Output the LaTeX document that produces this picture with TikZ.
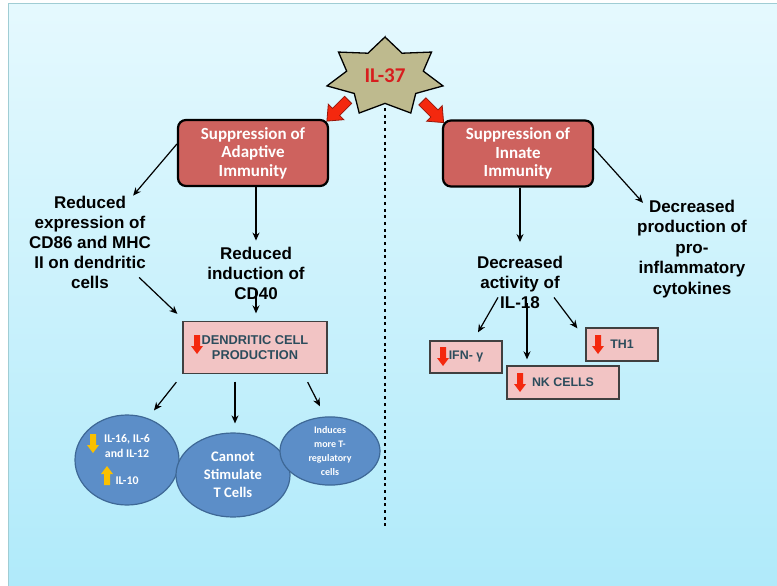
\documentclass[tikz,border=0pt]{standalone}
\usepackage{fontspec}
\setmainfont{Liberation Sans}
\newfontfamily\calibri{Carlito}
\usetikzlibrary{shapes.geometric,arrows.meta}

\definecolor{bgtop}{RGB}{229,249,254}
\definecolor{bgbottom}{RGB}{176,234,250}
\definecolor{bgframe}{RGB}{160,205,212}
\definecolor{starfill}{RGB}{190,186,142}
\definecolor{ilred}{RGB}{215,30,30}
\definecolor{boxred}{RGB}{206,98,94}
\definecolor{boxpink}{RGB}{242,196,196}
\definecolor{slate}{RGB}{44,76,92}
\definecolor{ellblue}{RGB}{92,142,200}
\definecolor{ellline}{RGB}{62,104,150}
\definecolor{arrred}{RGB}{244,40,14}
\definecolor{arrdark}{RGB}{150,22,10}
\definecolor{arryellow}{RGB}{250,192,0}

% small block arrow: colour, x, y of tail, 1 = down / -1 = up
\newcommand{\blockarr}[4]{%
  \fill[#1] ({#2-3},{#3}) -- ({#2+3},{#3}) -- ({#2+3},{#3+11*(#4)}) -- ({#2+6},{#3+11*(#4)})
    -- ({#2},{#3+19*(#4)}) -- ({#2-6},{#3+11*(#4)}) -- ({#2-3},{#3+11*(#4)}) -- cycle;}

\tikzset{
  conn/.style={line width=1.2pt, -{Stealth[length=8pt,width=7pt]}},
  txt/.style={align=center, inner sep=0pt, font=\bfseries\fontsize{17}{20}\selectfont},
  suppbox/.style={draw=black, line width=2.2pt, fill=boxred, rounded corners=8pt,
    minimum width=150pt, minimum height=66pt, inner sep=0pt, align=center, text=white,
    font=\calibri\bfseries\fontsize{17}{18.5}\selectfont},
  pinkbox/.style={draw=black!75, line width=1.3pt, fill=boxpink, inner sep=0pt,
    align=center, text=slate, font=\bfseries\fontsize{12.4}{14.5}\selectfont},
  cell/.style={ellipse, draw=ellline, line width=1.2pt, fill=ellblue, inner sep=0pt,
    align=center, text=white},
  bigarrow/.style={draw=arrdark, line width=0.8pt, fill=arrred, line join=miter},
  divider/.style={line width=2.8pt, dash pattern=on 3pt off 3.7pt}
}

\begin{document}
\begin{tikzpicture}[x=1pt,y=-1pt]
\useasboundingbox (0,0) rectangle (777,586);
\shade[top color=bgtop, bottom color=bgbottom] (8,4) rectangle (777,586);
\draw[bgframe, line width=1pt] (8,586) -- (8,4) -- (777,4);

\draw[divider] (385,108) -- (385,530);

% star
\draw[fill=starfill, line width=1.3pt] (385,37)
  \foreach \k in {0,...,6}{
    -- ({385+39.3*cos(90+\k*51.4286+25.7143)}, {77-26.4*sin(90+\k*51.4286+25.7143)})
    -- ({385+59.5*cos(90+(\k+1)*51.4286)}, {77-40*sin(90+(\k+1)*51.4286)})
  } -- cycle;
\node[text=ilred, font=\calibri\bfseries\fontsize{21}{21}\selectfont] (il) at (385,76) {IL-37};

% block arrows to the two boxes
\foreach \px/\py/\ang in {337.5/110.5/225, 433/112/-45}{
  \draw[bigarrow, shift={(\px,\py)}, rotate=\ang]
    (-15,-5) -- (2,-5) -- (2,-11) -- (15,0) -- (2,11) -- (2,5) -- (-15,5) -- cycle;
}

% boxes
\node[suppbox] (adapt) at (253,153) {Suppression of\\Adaptive\\Immunity};
\node[suppbox] (innate) at (518,153.5) {Suppression of\\Innate\\Immunity};

\node[txt] (expr) at (90,242) {Reduced\\expression of\\CD86 and MHC\\II on dendritic\\cells};
\node[txt] (ind) at (256,273) {Reduced\\induction of\\CD40};
\node[txt] (act) at (520,282) {Decreased\\activity of\\IL-18};
\node[txt, font=\bfseries\fontsize{17}{20.5}\selectfont] (prod) at (692,249)
  {Decreased\\production of\\pro-\\inflammatory\\cytokines};

\node[pinkbox, minimum width=144pt, minimum height=52pt, font=\bfseries\fontsize{12.8}{14.5}\selectfont]
  (dc) at (255,347.5) {DENDRITIC CELL\\PRODUCTION};
\node[pinkbox, minimum width=72pt, minimum height=32pt] (ifn) at (466,357) {IFN- γ};
\node[pinkbox, minimum width=112pt, minimum height=33pt] (nk) at (563,382.5) {NK CELLS};
\node[pinkbox, minimum width=72pt, minimum height=33pt] (th) at (622,344.5) {TH1};

\blockarr{arrred}{197}{335}{1}
\blockarr{arrred}{443}{347}{1}
\blockarr{arrred}{520}{373}{1}
\blockarr{arrred}{598}{335}{1}

% cells
\node[cell, minimum width=104pt, minimum height=90pt, font=\calibri\bfseries\fontsize{11.8}{15}\selectfont]
  (e1) at (127,460) {IL-16, IL-6\\and IL-12\\[12pt]IL-10};
\node[cell, minimum width=114pt, minimum height=84pt, font=\calibri\bfseries\fontsize{14.6}{18}\selectfont]
  (e2) at (233,475) {Cannot\\Stimulate\\T Cells};
\node[cell, minimum width=100pt, minimum height=62pt, font=\calibri\bfseries\fontsize{10}{13.7}\selectfont]
  (e3) at (330,451) {Induces\\more T-\\regulatory\\cells};

\blockarr{arryellow}{93}{434}{1}
\blockarr{arryellow}{107}{485}{-1}

% connectors
\draw[conn] ([yshift=9pt]adapt.west) -- ([xshift=-18pt]expr.north east);
\draw[conn] (adapt.south -| ind.north) -- ([yshift=6pt]ind.north);
\draw[conn] ([yshift=9pt]ind.south) -- ([yshift=7.5pt]ind.south |- dc.north);
\draw[conn] ([shift={(-12pt,11pt)}]expr.south east) -- ([shift={(-5pt,7pt)}]dc.north west);
\draw[conn] ([shift={(-6pt,-8pt)}]dc.south west) -- ([shift={(27pt,4pt)}]e1.north);
\draw[conn] ([shift={(-20pt,-7.5pt)}]dc.south) -- ([shift={(2pt,9pt)}]e2.north);
\draw[conn] ([shift={(-20pt,-8pt)}]dc.south east) -- ([shift={(-10pt,10pt)}]e3.north);

\draw[conn] (innate.south -| act.north) -- ([yshift=13.5pt]act.north);
\draw[conn] ([yshift=5pt]innate.east) -- ([shift={(6pt,-3pt)}]prod.north west);
\draw[conn] ([shift={(-22pt,11pt)}]act.south) -- ([shift={(12pt,8pt)}]ifn.north);
\draw[conn] ([shift={(7pt,5pt)}]act.south) -- ([shift={(-36pt,6pt)}]nk.north);
\draw[conn] ([shift={(34pt,11pt)}]act.south) -- ([shift={(-8pt,-1pt)}]th.north west);
\end{tikzpicture}
\end{document}
